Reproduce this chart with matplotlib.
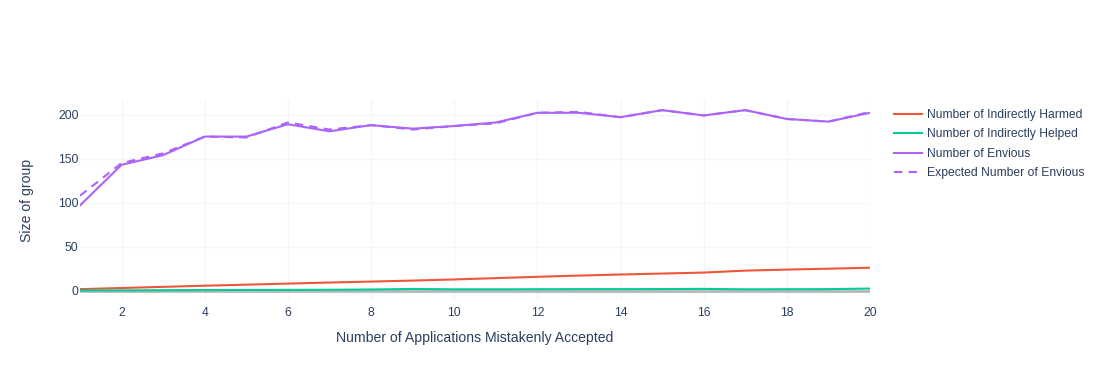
import matplotlib
matplotlib.use('Agg')
import matplotlib.pyplot as plt

plt.rcParams['font.family'] = ['Liberation Sans', 'DejaVu Sans']

accepted = list(range(1, 21))
harmed = [2, 3.3, 4.6, 5.9, 7.1, 8.3, 9.5, 10.6, 11.7, 13, 14.5, 16, 17.4, 18.6, 19.7, 20.8, 23, 24.2, 25.2, 26.3]
helped = [0.5, 0.6, 0.8, 1, 1.1, 1.2, 1.3, 1.6, 2.2, 1.8, 1.8, 1.9, 2, 2, 2.1, 2.3, 1.8, 1.9, 2, 2.7]
envious = [97, 143, 154, 175, 175, 189, 181, 188, 184, 187, 191, 202, 202, 197, 205, 199, 205, 195, 192, 202]
expected_envious = [108, 145, 156, 175, 174, 191, 183, 188, 183, 187, 190, 202, 203, 197, 205, 199, 205, 195, 192, 203]

fig = plt.figure(figsize=(11.1, 3.8), dpi=100)
ax = fig.add_axes([80 / 1110, 80 / 380, 790 / 1110, 200 / 380])

text_col = '#2a3f5f'
ax.axhline(0, color='#b8b8b8', lw=2, zorder=1)
ax.plot(accepted, harmed, color='#EF553B', lw=1.5, label='Number of Indirectly Harmed', zorder=3)
ax.plot(accepted, helped, color='#00CC96', lw=1.5, label='Number of Indirectly Helped', zorder=3)
ax.plot(accepted, envious, color='#AB63FA', lw=1.5, label='Number of Envious', zorder=3)
ax.plot(accepted, expected_envious, color='#AB63FA', lw=1.5, ls=(0, (4, 3)),
        label='Expected Number of Envious', zorder=3)

ax.set_xlim(1, 20)
ax.set_ylim(-10.3, 216.5)
ax.set_xticks(range(2, 21, 2))
ax.set_yticks([0, 50, 100, 150, 200])
ax.grid(True, color='#f4f5f7', lw=1)
ax.set_axisbelow(True)
for s in ax.spines.values():
    s.set_visible(False)
ax.tick_params(axis='x', length=0, labelsize=8.7, colors=text_col, pad=5)
ax.tick_params(axis='y', length=0, labelsize=8.7, colors=text_col, pad=1)

ax.set_xlabel('Number of Applications Mistakenly Accepted', fontsize=10.1, color=text_col, labelpad=9)
ax.set_ylabel('Size of group', fontsize=10.1, color=text_col, labelpad=17)

fig.legend(loc='upper left', bbox_to_anchor=(889 / 1110, 1 - 104 / 380), frameon=False,
           fontsize=8.7, labelcolor=text_col, handlelength=2.3, handletextpad=0.45,
           labelspacing=0.62, borderaxespad=0)

fig.savefig('out.png', dpi=100)
